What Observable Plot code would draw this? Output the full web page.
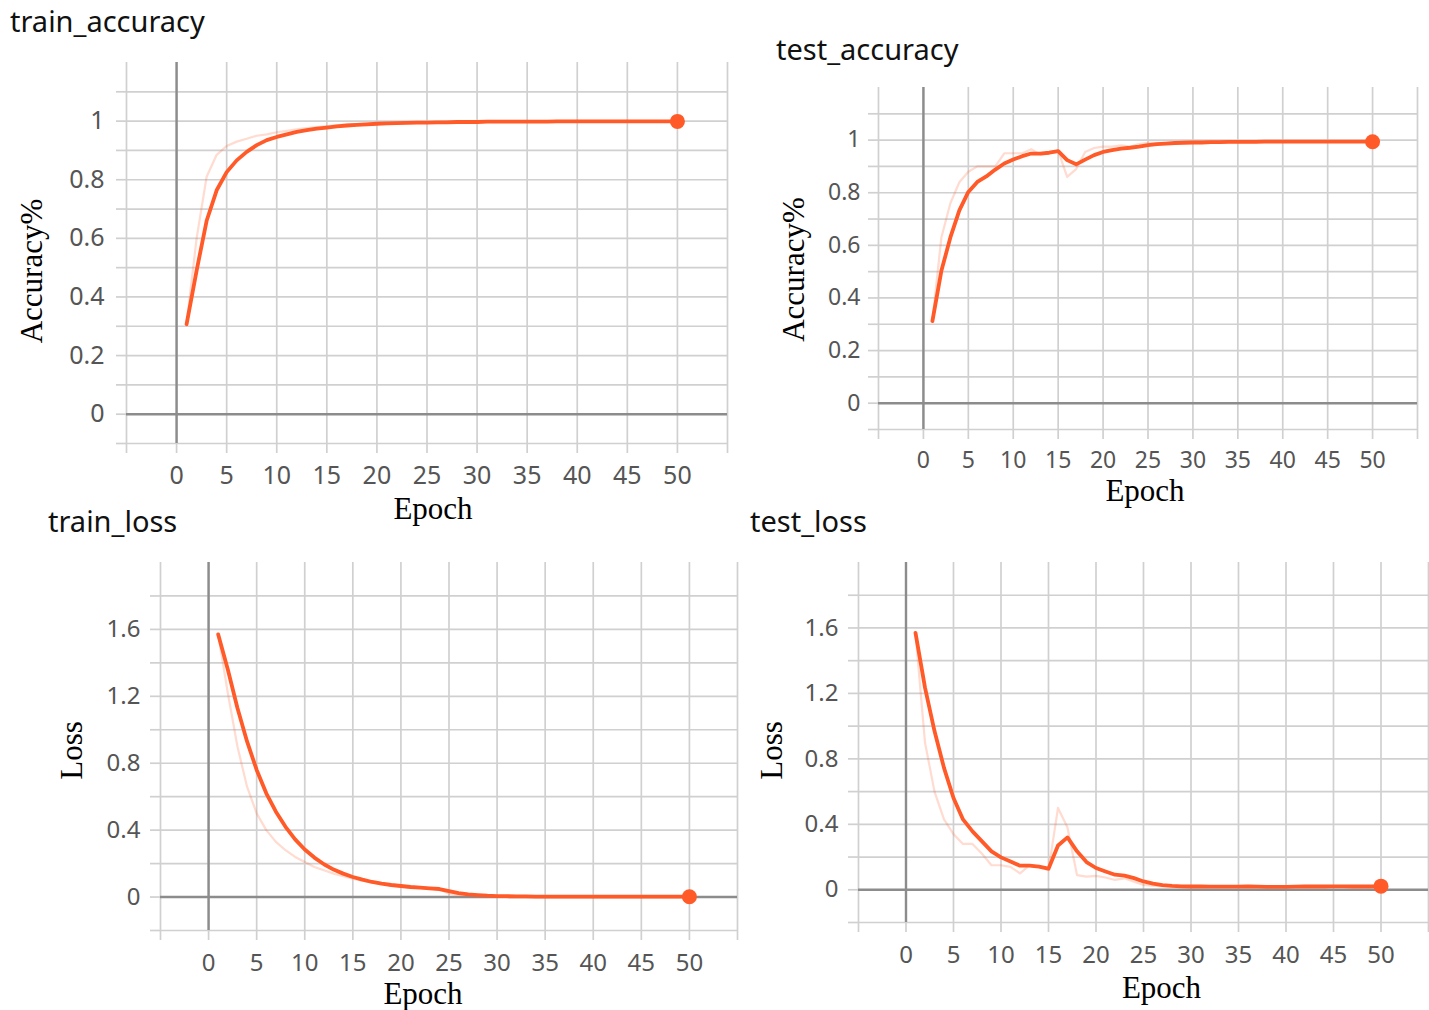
<!DOCTYPE html>
<html>
<head>
<meta charset="utf-8">
<script src="https://cdn.jsdelivr.net/npm/d3@7"></script>
<script src="https://cdn.jsdelivr.net/npm/@observablehq/plot@0.6"></script>
<style>
  html, body { margin: 0; padding: 0; background: #fff; }
  #root { position: relative; width: 1429px; height: 1010px; overflow: hidden; background: #fff; }
  .panel { position: absolute; }
  .panel svg { overflow: visible; }
  .title { position: absolute; font-family: "Noto Sans", sans-serif; font-size: 29px; line-height: 1; color: #111; white-space: nowrap; }
</style>
</head>
<body>
<div id="root"></div>
<script>
// ---------- data ----------
const epochs = d3.range(1, 51);

const trainAccSmooth = [0.307, 0.490, 0.660, 0.764, 0.826, 0.866, 0.895, 0.918, 0.935, 0.946,
  0.955, 0.963, 0.969, 0.974, 0.978, 0.982, 0.985, 0.987, 0.989, 0.991,
  0.992, 0.993, 0.994, 0.995, 0.995, 0.996, 0.996, 0.997, 0.997, 0.997,
  0.998, 0.998, 0.998, 0.998, 0.998, 0.998, 0.998, 0.999, 0.999, 0.999,
  0.999, 0.999, 0.999, 0.999, 0.999, 0.999, 0.999, 0.999, 0.999, 0.999];
const trainAccRaw = [0.307, 0.600, 0.810, 0.885, 0.915, 0.930, 0.940, 0.950, 0.955, 0.962,
  0.967, 0.972, 0.976, 0.980, 0.983, 0.986, 0.988, 0.990, 0.992, 0.993,
  0.994, 0.995, 0.996, 0.996, 0.997, 0.997, 0.998, 0.998, 0.998, 0.998,
  0.999, 0.999, 0.999, 0.999, 0.999, 0.999, 0.999, 0.999, 0.999, 0.999,
  0.999, 0.999, 0.999, 0.999, 0.999, 0.999, 0.999, 0.999, 0.999, 0.999];

const testAccSmooth = [0.312, 0.503, 0.630, 0.733, 0.803, 0.841, 0.862, 0.888, 0.911, 0.926,
  0.939, 0.949, 0.949, 0.952, 0.958, 0.924, 0.908, 0.926, 0.943, 0.955,
  0.962, 0.968, 0.971, 0.975, 0.981, 0.985, 0.987, 0.989, 0.990, 0.991,
  0.991, 0.992, 0.992, 0.993, 0.993, 0.993, 0.993, 0.994, 0.994, 0.994,
  0.994, 0.994, 0.994, 0.994, 0.994, 0.994, 0.994, 0.994, 0.994, 0.994];
const testAccRaw = [0.312, 0.630, 0.760, 0.840, 0.880, 0.900, 0.900, 0.900, 0.950, 0.950,
  0.950, 0.965, 0.945, 0.950, 0.960, 0.860, 0.890, 0.955, 0.970, 0.975,
  0.975, 0.980, 0.975, 0.985, 0.990, 0.990, 0.990, 0.990, 0.993, 0.993,
  0.993, 0.994, 0.994, 0.994, 0.994, 0.994, 0.994, 0.995, 0.995, 0.995,
  0.995, 0.995, 0.995, 0.995, 0.995, 0.995, 0.995, 0.995, 0.995, 0.995];

const trainLossSmooth = [1.570, 1.360, 1.130, 0.930, 0.760, 0.620, 0.510, 0.420, 0.345, 0.284,
  0.236, 0.196, 0.164, 0.140, 0.120, 0.104, 0.090, 0.080, 0.072, 0.066,
  0.060, 0.056, 0.052, 0.048, 0.036, 0.024, 0.016, 0.012, 0.008, 0.006,
  0.005, 0.004, 0.004, 0.003, 0.003, 0.002, 0.002, 0.002, 0.002, 0.002,
  0.002, 0.002, 0.002, 0.002, 0.002, 0.002, 0.002, 0.002, 0.002, 0.002];
const trainLossRaw = [1.570, 1.220, 0.900, 0.660, 0.500, 0.400, 0.330, 0.280, 0.240, 0.210,
  0.180, 0.160, 0.140, 0.125, 0.110, 0.098, 0.088, 0.078, 0.070, 0.064,
  0.058, 0.054, 0.050, 0.046, 0.020, 0.012, 0.008, 0.006, 0.005, 0.004,
  0.003, 0.003, 0.002, 0.002, 0.002, 0.002, 0.002, 0.002, 0.002, 0.002,
  0.002, 0.002, 0.002, 0.002, 0.002, 0.002, 0.002, 0.002, 0.002, 0.002];

const testLossSmooth = [1.570, 1.235, 0.970, 0.745, 0.561, 0.430, 0.357, 0.296, 0.235, 0.198,
  0.173, 0.147, 0.147, 0.141, 0.129, 0.271, 0.320, 0.235, 0.169, 0.133,
  0.112, 0.092, 0.086, 0.071, 0.051, 0.037, 0.029, 0.024, 0.021, 0.020,
  0.020, 0.019, 0.019, 0.019, 0.019, 0.020, 0.019, 0.018, 0.018, 0.018,
  0.019, 0.021, 0.020, 0.020, 0.021, 0.021, 0.020, 0.020, 0.020, 0.022];
const testLossRaw = [1.570, 0.900, 0.600, 0.430, 0.340, 0.280, 0.280, 0.220, 0.150, 0.150,
  0.140, 0.100, 0.150, 0.140, 0.120, 0.500, 0.380, 0.090, 0.080, 0.085,
  0.075, 0.060, 0.070, 0.050, 0.030, 0.025, 0.020, 0.020, 0.020, 0.020,
  0.019, 0.019, 0.019, 0.019, 0.019, 0.020, 0.018, 0.018, 0.018, 0.019,
  0.021, 0.022, 0.020, 0.020, 0.021, 0.021, 0.020, 0.020, 0.020, 0.022];

const xGridTicks = [-5, 0, 5, 10, 15, 20, 25, 30, 35, 40, 45, 50, 55];
const xLabelTicks = [0, 5, 10, 15, 20, 25, 30, 35, 40, 45, 50];
const accGridTicks = [-0.1, 0, 0.1, 0.2, 0.3, 0.4, 0.5, 0.6, 0.7, 0.8, 0.9, 1, 1.1];
const accLabelTicks = [0, 0.2, 0.4, 0.6, 0.8, 1];
const lossGridTicks = [-0.2, 0, 0.2, 0.4, 0.6, 0.8, 1, 1.2, 1.4, 1.6, 1.8];
const lossLabelTicks = [0, 0.4, 0.8, 1.2, 1.6];

const titles = ["train_accuracy", "test_accuracy", "train_loss", "test_loss"];
const xLabel = "Epoch";
const accLabel = "Accuracy%";
const lossLabel = "Loss";

// ---------- styles ----------
const ORANGE = "#ff5a28";
const GRID = "#d0d0d0";
const AXIS0 = "#8c8c8c";
const TICKTEXT = "#555";

const root = document.getElementById("root");

function makeRows(smooth, raw) {
  return epochs.map((e, i) => ({epoch: e, smooth: smooth[i], raw: raw[i]}));
}

function fmtMatch(list) {
  return d => list.some(v => Math.abs(v - d) < 1e-9) ? String(d) : "";
}

function panel(cfg) {
  const rows = makeRows(cfg.smooth, cfg.raw);
  const serif = "'Liberation Serif', 'Times New Roman', serif";
  const chart = Plot.plot({
    width: cfg.w, height: cfg.h,
    marginLeft: cfg.mL, marginRight: cfg.mR, marginTop: cfg.mT, marginBottom: cfg.mB,
    style: {fontFamily: "'Noto Sans', sans-serif", background: "transparent", overflow: "visible"},
    x: {domain: [-5, 55]},
    y: {domain: cfg.yDomain},
    marks: [
      Plot.gridX(xGridTicks, {stroke: GRID, strokeOpacity: 1, strokeWidth: 1.7}),
      Plot.gridY(cfg.yGrid, {stroke: GRID, strokeOpacity: 1, strokeWidth: 1.7}),
      Plot.axisX(xGridTicks, {tickSize: 10, tickPadding: cfg.xPad, stroke: GRID, strokeWidth: 1.7,
        color: TICKTEXT, fontSize: cfg.fs, tickFormat: fmtMatch(xLabelTicks), label: null}),
      Plot.axisY(cfg.yGrid, {tickSize: 10, tickPadding: cfg.yPad, stroke: GRID, strokeWidth: 1.7,
        color: TICKTEXT, fontSize: cfg.fs, tickFormat: fmtMatch(cfg.yLabels), label: null}),
      Plot.ruleX([0], {stroke: AXIS0, strokeWidth: 2.4}),
      Plot.ruleY([0], {stroke: AXIS0, strokeWidth: 2.4}),
      Plot.line(rows, {x: "epoch", y: "raw", stroke: ORANGE, strokeOpacity: 0.22, strokeWidth: 2.2}),
      Plot.line(rows, {x: "epoch", y: "smooth", stroke: ORANGE, strokeWidth: 3.8, strokeLinejoin: "round", strokeLinecap: "round"}),
      Plot.dot(rows, Plot.selectLast({x: "epoch", y: "smooth", r: 7.5, fill: ORANGE, stroke: "none"})),
      Plot.text([xLabel], {text: d => d, frameAnchor: "bottom", lineAnchor: "middle", textAnchor: "middle",
        dx: cfg.exDx, dy: cfg.exDy, fontFamily: serif, fontSize: 31, fill: "#000"}),
      Plot.text([cfg.yTitle], {text: d => d, frameAnchor: "left", lineAnchor: "middle", textAnchor: "middle",
        rotate: -90, dx: cfg.yDx, dy: cfg.yDy, fontFamily: serif, fontSize: 31, fill: "#000"})
    ]
  });
  const div = document.createElement("div");
  div.className = "panel";
  div.style.left = cfg.left + "px";
  div.style.top = cfg.top + "px";
  div.appendChild(chart);
  root.appendChild(div);

  const t = document.createElement("div");
  t.className = "title";
  t.textContent = cfg.title;
  t.style.left = cfg.tx + "px";
  t.style.top = cfg.ty + "px";
  root.appendChild(t);
}

panel({title: titles[0], tx: 10, ty: 6,
  left: 0, top: 40, w: 740, h: 500, mL: 126, mR: 13, mT: 22, mB: 97,
  yDomain: [-0.1, 1.2], yGrid: accGridTicks, yLabels: accLabelTicks, yTitle: accLabel,
  smooth: trainAccSmooth, raw: trainAccRaw, fs: 25, xPad: 13, yPad: 12,
  exDx: 6, exDy: 66, yDx: -94, yDy: 18});

panel({title: titles[1], tx: 776, ty: 34,
  left: 740, top: 70, w: 689, h: 450, mL: 138, mR: 12, mT: 17, mB: 91,
  yDomain: [-0.1, 1.2], yGrid: accGridTicks, yLabels: accLabelTicks, yTitle: accLabel,
  smooth: testAccSmooth, raw: testAccRaw, fs: 23, xPad: 12, yPad: 8,
  exDx: -3, exDy: 62, yDx: -84, yDy: 11});

panel({title: titles[2], tx: 48, ty: 506,
  left: 0, top: 545, w: 745, h: 465, mL: 160, mR: 8, mT: 17, mB: 80,
  yDomain: [-0.2, 2.0], yGrid: lossGridTicks, yLabels: lossLabelTicks, yTitle: lossLabel,
  smooth: trainLossSmooth, raw: trainLossRaw, fs: 24, xPad: 13, yPad: 10,
  exDx: -26, exDy: 64, yDx: -88, yDy: 4});

panel({title: titles[3], tx: 750, ty: 506,
  left: 740, top: 545, w: 689, h: 465, mL: 118, mR: 1, mT: 17, mB: 88,
  yDomain: [-0.2, 2.0], yGrid: lossGridTicks, yLabels: lossLabelTicks, yTitle: lossLabel,
  smooth: testLossSmooth, raw: testLossRaw, fs: 24, xPad: 13, yPad: 10,
  exDx: 18, exDy: 66, yDx: -86, yDy: 8});
</script>
</body>
</html>
